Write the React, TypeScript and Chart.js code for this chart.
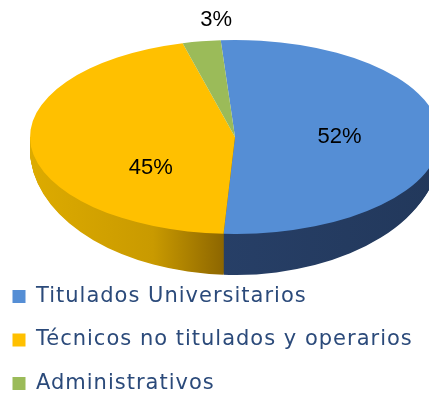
import React, { useEffect, useRef } from 'react';
import { Chart, registerables } from 'chart.js';

Chart.register(...registerables);

// ---- data ----
const categories = ['Titulados Universitarios', 'Técnicos no titulados y operarios', 'Administrativos'];
const shares = [52, 45, 3];
const valueLabels = ['52%', '45%', '3%'];
const topColors = ['#558ED5', '#FFC000', '#9BBB59'];

// ---- 3D look (styling only) ----
const CANVAS_SHIFT = 10;
const CANVAS_W = 429 + CANVAS_SHIFT;
const CANVAS_H = 404;
const CX = 235 + CANVAS_SHIFT;
const CY = 137;
const RX = 205;
const RY = 97;
const DEPTH = 41;
const WALL_SHIFT = 0.3; // part of depth that moves the centre; rest grows the vertical radius
const LABEL_RADIUS = [0.5, 0.55, 1.22];
const LABEL_SHIFT = [[2, 0], [28, 26], [22, 0]];

const sideGradientStops: [number, string][][] = [
  [[0, '#2B4571'], [1, '#22385B']],
  [[0, '#DDAB00'], [0.3, '#C99A00'], [0.47, '#8E6700'], [1, '#8E6700']],
  [[0, '#7A9542'], [1, '#6A8336']],
];

const pie3d = {
  id: 'pie3d',
  beforeDraw(chart: any) {
    (chart.ctx as any).letterSpacing = '1px';
  },
  beforeDatasetsDraw(chart: any) {
    const ctx = chart.ctx as CanvasRenderingContext2D;
    const arcs = chart.getDatasetMeta(0).data;
    if (!arcs.length) return;
    const { x: ccx, y: ccy, outerRadius: R } = arcs[0];
    const grads = sideGradientStops.map((stops) => {
      const g = ctx.createLinearGradient(ccx - R, 0, ccx + R, 0);
      stops.forEach(([o, c]) => g.addColorStop(o, c));
      return g;
    });
    ctx.save();
    ctx.beginPath();
    ctx.rect(0, CY, chart.width, chart.height - CY);
    ctx.clip();
    for (let d = DEPTH; d >= 1; d--) {
      ctx.save();
      ctx.translate(CX, CY + d * WALL_SHIFT);
      ctx.scale(RX / R, (RY + d * (1 - WALL_SHIFT)) / R);
      ctx.translate(-ccx, -ccy);
      arcs.forEach((arc: any, i: number) => {
        const orig = arc.options;
        arc.options = { ...orig, backgroundColor: grads[i], borderWidth: 0 };
        arc.draw(ctx);
        arc.options = orig;
      });
      ctx.restore();
    }
    ctx.restore();
    ctx.save();
    ctx.translate(CX, CY);
    ctx.scale(RX / R, RY / R);
    ctx.translate(-ccx, -ccy);
  },
  afterDatasetsDraw(chart: any) {
    const ctx = chart.ctx as CanvasRenderingContext2D;
    ctx.restore();
    const arcs = chart.getDatasetMeta(0).data;
    if (!arcs.length) return;
    const { outerRadius: R } = arcs[0];
    const sx = RX / R;
    const sy = RY / R;
    ctx.save();
    (ctx as any).letterSpacing = '0px';
    ctx.font = '22px "Liberation Sans", Arial, sans-serif';
    ctx.fillStyle = '#000000';
    ctx.textAlign = 'center';
    ctx.textBaseline = 'middle';
    arcs.forEach((arc: any, i: number) => {
      const a = (arc.startAngle + arc.endAngle) / 2;
      const f = LABEL_RADIUS[i];
      const px = Math.cos(a) * R * f * sx + CX + LABEL_SHIFT[i][0];
      const py = Math.sin(a) * R * f * sy + CY + LABEL_SHIFT[i][1];
      ctx.fillText(valueLabels[i], px, py);
    });
    ctx.restore();
  },
};

export default function App() {
  const ref = useRef<HTMLCanvasElement | null>(null);
  useEffect(() => {
    if (!ref.current) return;
    const chart = new Chart(ref.current, {
      type: 'pie',
      data: {
        labels: categories,
        datasets: [
          {
            data: shares,
            backgroundColor: topColors,
            borderWidth: 0,
          },
        ],
      },
      options: {
        animation: false,
        responsive: false,
        rotation: -4,
        events: [],
        layout: { padding: 0 },
        plugins: {
          tooltip: { enabled: false },
          legend: {
            position: 'bottom',
            align: 'start',
            labels: {
              boxWidth: 13,
              boxHeight: 13,
              padding: 22.5,
              color: '#2B4A7A',
              font: { family: '"DejaVu Sans", sans-serif', size: 21 },
            },
          },
        },
      },
      plugins: [pie3d],
    });
    return () => chart.destroy();
  }, []);
  return (
    <div
      style={{
        position: 'absolute',
        left: -CANVAS_SHIFT,
        top: 0,
        width: CANVAS_W,
        height: 401,
        overflow: 'hidden',
        background: '#ffffff',
      }}
    >
      <canvas ref={ref} width={CANVAS_W} height={CANVAS_H} style={{ display: 'block' }} />
    </div>
  );
}
